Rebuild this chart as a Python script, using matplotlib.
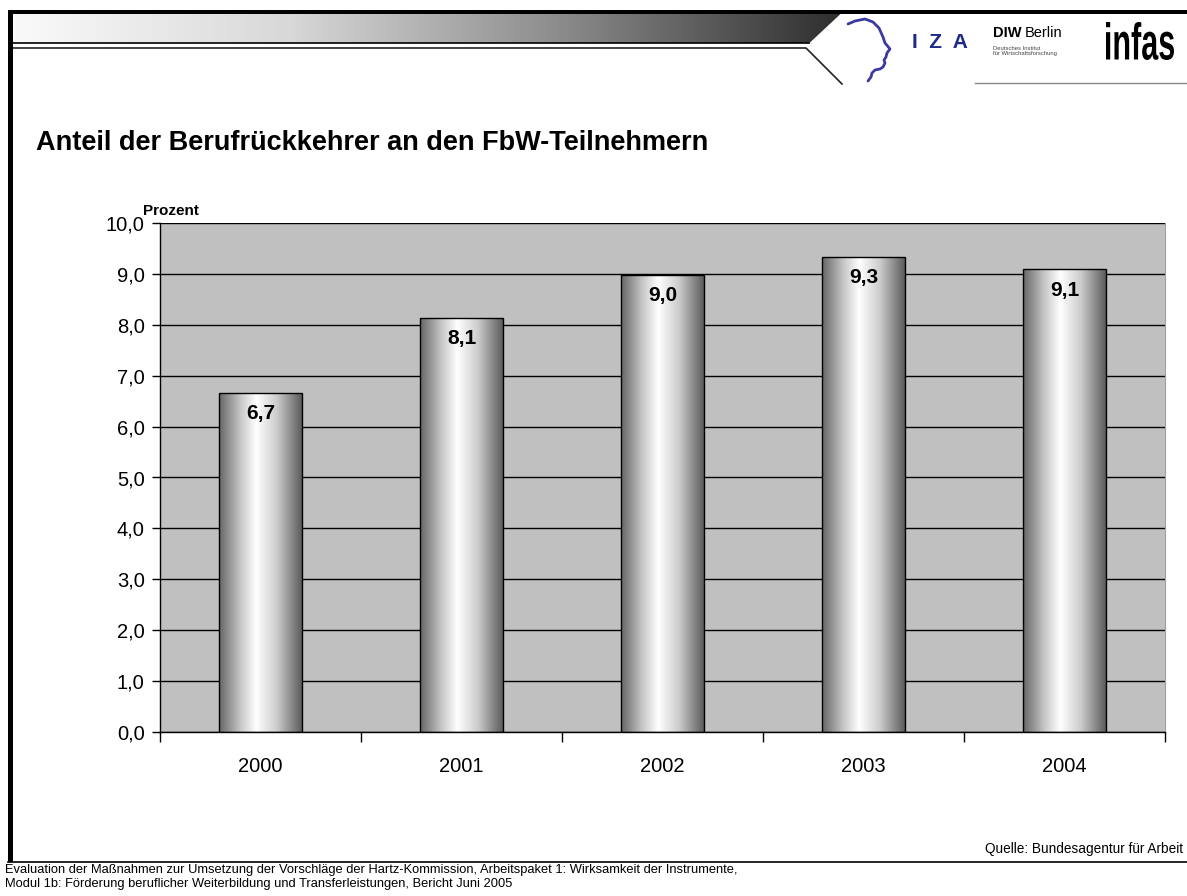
import matplotlib

matplotlib.use("Agg")
import matplotlib.pyplot as plt
import numpy as np
from matplotlib.colors import LinearSegmentedColormap
from matplotlib.patches import Polygon, PathPatch, Rectangle
from matplotlib.textpath import TextPath
from matplotlib.font_manager import FontProperties
from matplotlib.transforms import Affine2D

plt.rcParams["font.family"] = ["Liberation Sans", "DejaVu Sans"]

# --------------------------------------------------------------------------- #
# Data
# --------------------------------------------------------------------------- #
years = ["2000", "2001", "2002", "2003", "2004"]
shares = [6.66, 8.14, 8.98, 9.34, 9.09]   # Anteil in Prozent
y_ticks = [0, 1, 2, 3, 4, 5, 6, 7, 8, 9, 10]

TITLE = "Anteil der Berufrückkehrer an den FbW-Teilnehmern"
SOURCE = "Quelle: Bundesagentur für Arbeit"
FOOTER_1 = ("Evaluation der Maßnahmen zur Umsetzung der Vorschläge der Hartz-Kommission, "
            "Arbeitspaket 1: Wirksamkeit der Instrumente,")
FOOTER_2 = "Modul 1b: Förderung beruflicher Weiterbildung und Transferleistungen, Bericht Juni 2005"

W, H = 1187, 896
fig = plt.figure(figsize=(W / 100, H / 100), dpi=100)

# --------------------------------------------------------------------------- #
# Slide decoration (pixel coordinates)
# --------------------------------------------------------------------------- #
deco = fig.add_axes([0, 0, 1, 1], zorder=0)
deco.set_xlim(0, W)
deco.set_ylim(H, 0)
deco.axis("off")

# header gradient band with slanted end
band = Polygon([(13, 14), (842, 14), (811, 43), (13, 43)], closed=True,
               facecolor="none", edgecolor="none")
deco.add_patch(band)
band_cmap = LinearSegmentedColormap.from_list("band", ["#fafafa", "#d8d8d8", "#8a8a8a", "#2e2e2e"])
im = deco.imshow(np.linspace(0, 1, 256).reshape(1, -1), cmap=band_cmap, aspect="auto",
                 extent=(13, 842, 43, 14), zorder=1)
im.set_clip_path(band)
deco.plot([13, 811], [43.5, 43.5], color="black", lw=1.2, zorder=2)
deco.plot([811, 842], [43, 14], color="white", lw=1.5, zorder=2)
deco.plot([13, 806, 842], [48, 48, 84], color="#222222", lw=1.2, zorder=2)
deco.plot([975, W], [83, 83], color="#888888", lw=1.0, zorder=2)

# frame
deco.add_patch(Rectangle((8, 10), W - 8, 4.5, facecolor="black", edgecolor="none", zorder=3))
deco.add_patch(Rectangle((8, 10), 5, 852, facecolor="black", edgecolor="none", zorder=3))
deco.plot([8, W], [862, 862], color="black", lw=1.2, zorder=3)

# IZA logo
head_x = [848, 855, 865, 873, 879, 883, 885, 890, 887, 886, 884, 885, 883, 880, 875, 872, 871, 868]
head_y = [24, 21, 19, 22, 28, 37, 43, 49, 53, 57, 60, 63, 67, 69, 70, 73, 77, 81]
deco.plot(head_x, head_y, color="#3a3aa0", lw=2.0, solid_capstyle="round",
          solid_joinstyle="round", zorder=2)
deco.text(940, 43, "I  Z  A", fontsize=15, fontweight="bold", color="#1e2a8a",
          ha="center", va="center")

# DIW logo
deco.text(993, 33, "DIW", fontsize=10.5, fontweight="bold", ha="left", va="center")
deco.text(1025, 33, "Berlin", fontsize=10.5, ha="left", va="center")
deco.text(993, 51, "Deutsches Institut\nfür Wirtschaftsforschung", fontsize=4.2,
          color="#444444", ha="left", va="center", linespacing=1.1)

# infas logo: condensed bold lettering
tp = TextPath((0, 0), "infas", size=30, prop=FontProperties(family="Liberation Sans", weight="bold"))
ext = tp.get_extents()
sx = 68 / ext.width
sy = 38 / ext.height
tf = Affine2D().translate(-ext.x0, -ext.y0).scale(sx, -sy).translate(1106, 60)
deco.add_patch(PathPatch(tf.transform_path(tp), facecolor="black", edgecolor="none", zorder=2))

# titles and notes
deco.text(36, 143, TITLE, fontsize=19.5, fontweight="bold", ha="left", va="center")
deco.text(143, 211, "Prozent", fontsize=11, fontweight="bold", ha="left", va="center")
deco.text(1183, 849, SOURCE, fontsize=9.8, ha="right", va="center")
deco.text(5, 870.5, FOOTER_1, fontsize=9.3, ha="left", va="center")
deco.text(5, 884, FOOTER_2, fontsize=9.3, ha="left", va="center")

# --------------------------------------------------------------------------- #
# Bar chart
# --------------------------------------------------------------------------- #
left, right, top, bottom = 160, 1165, 223, 732
ax = fig.add_axes([left / W, 1 - bottom / H, (right - left) / W, (bottom - top) / H], zorder=1)
ax.set_facecolor("#c0c0c0")

x = np.arange(len(years))
bars = ax.bar(x, shares, width=0.41, color="none", edgecolor="black", linewidth=1.0, zorder=3)

bar_cmap = LinearSegmentedColormap.from_list(
    "cyl", [(0, "#666666"), (0.25, "#c4c4c4"), (0.45, "#ffffff"), (0.7, "#cccccc"), (1, "#5c5c5c")])
grad = np.linspace(0, 1, 256).reshape(1, -1)
for b, v in zip(bars, shares):
    x0, w = b.get_x(), b.get_width()
    g = ax.imshow(grad, cmap=bar_cmap, aspect="auto", extent=(x0, x0 + w, 0, v), zorder=2.5)
    g.set_clip_path(b)
    ax.annotate(f"{v:.1f}".replace(".", ","), (b.get_x() + w / 2, v), xytext=(0, -15),
                textcoords="offset points", ha="center", va="center",
                fontsize=15, fontweight="bold", zorder=4)

ax.set_xlim(-0.5, len(years) - 0.5)
ax.set_ylim(0, 10)
ax.set_yticks(y_ticks)
ax.set_yticklabels([f"{t:.1f}".replace(".", ",") for t in y_ticks], fontsize=14.5)
ax.yaxis.grid(True, color="black", lw=1.0)
ax.set_axisbelow(True)

ax.set_xticks(np.arange(len(years) + 1) - 0.5)
ax.set_xticklabels([])
ax.set_xticks(x, minor=True)
ax.set_xticklabels(years, minor=True, fontsize=14.5)
ax.tick_params(axis="x", which="major", direction="out", length=7, width=1)
ax.tick_params(axis="x", which="minor", length=0, pad=18)
ax.tick_params(axis="y", direction="out", length=6, width=1, pad=5)

ax.spines["top"].set_visible(False)
ax.spines["right"].set_color("#a0a0a0")
ax.spines["left"].set_linewidth(1.0)
ax.spines["bottom"].set_linewidth(1.0)

fig.savefig("out.png", dpi=100)
